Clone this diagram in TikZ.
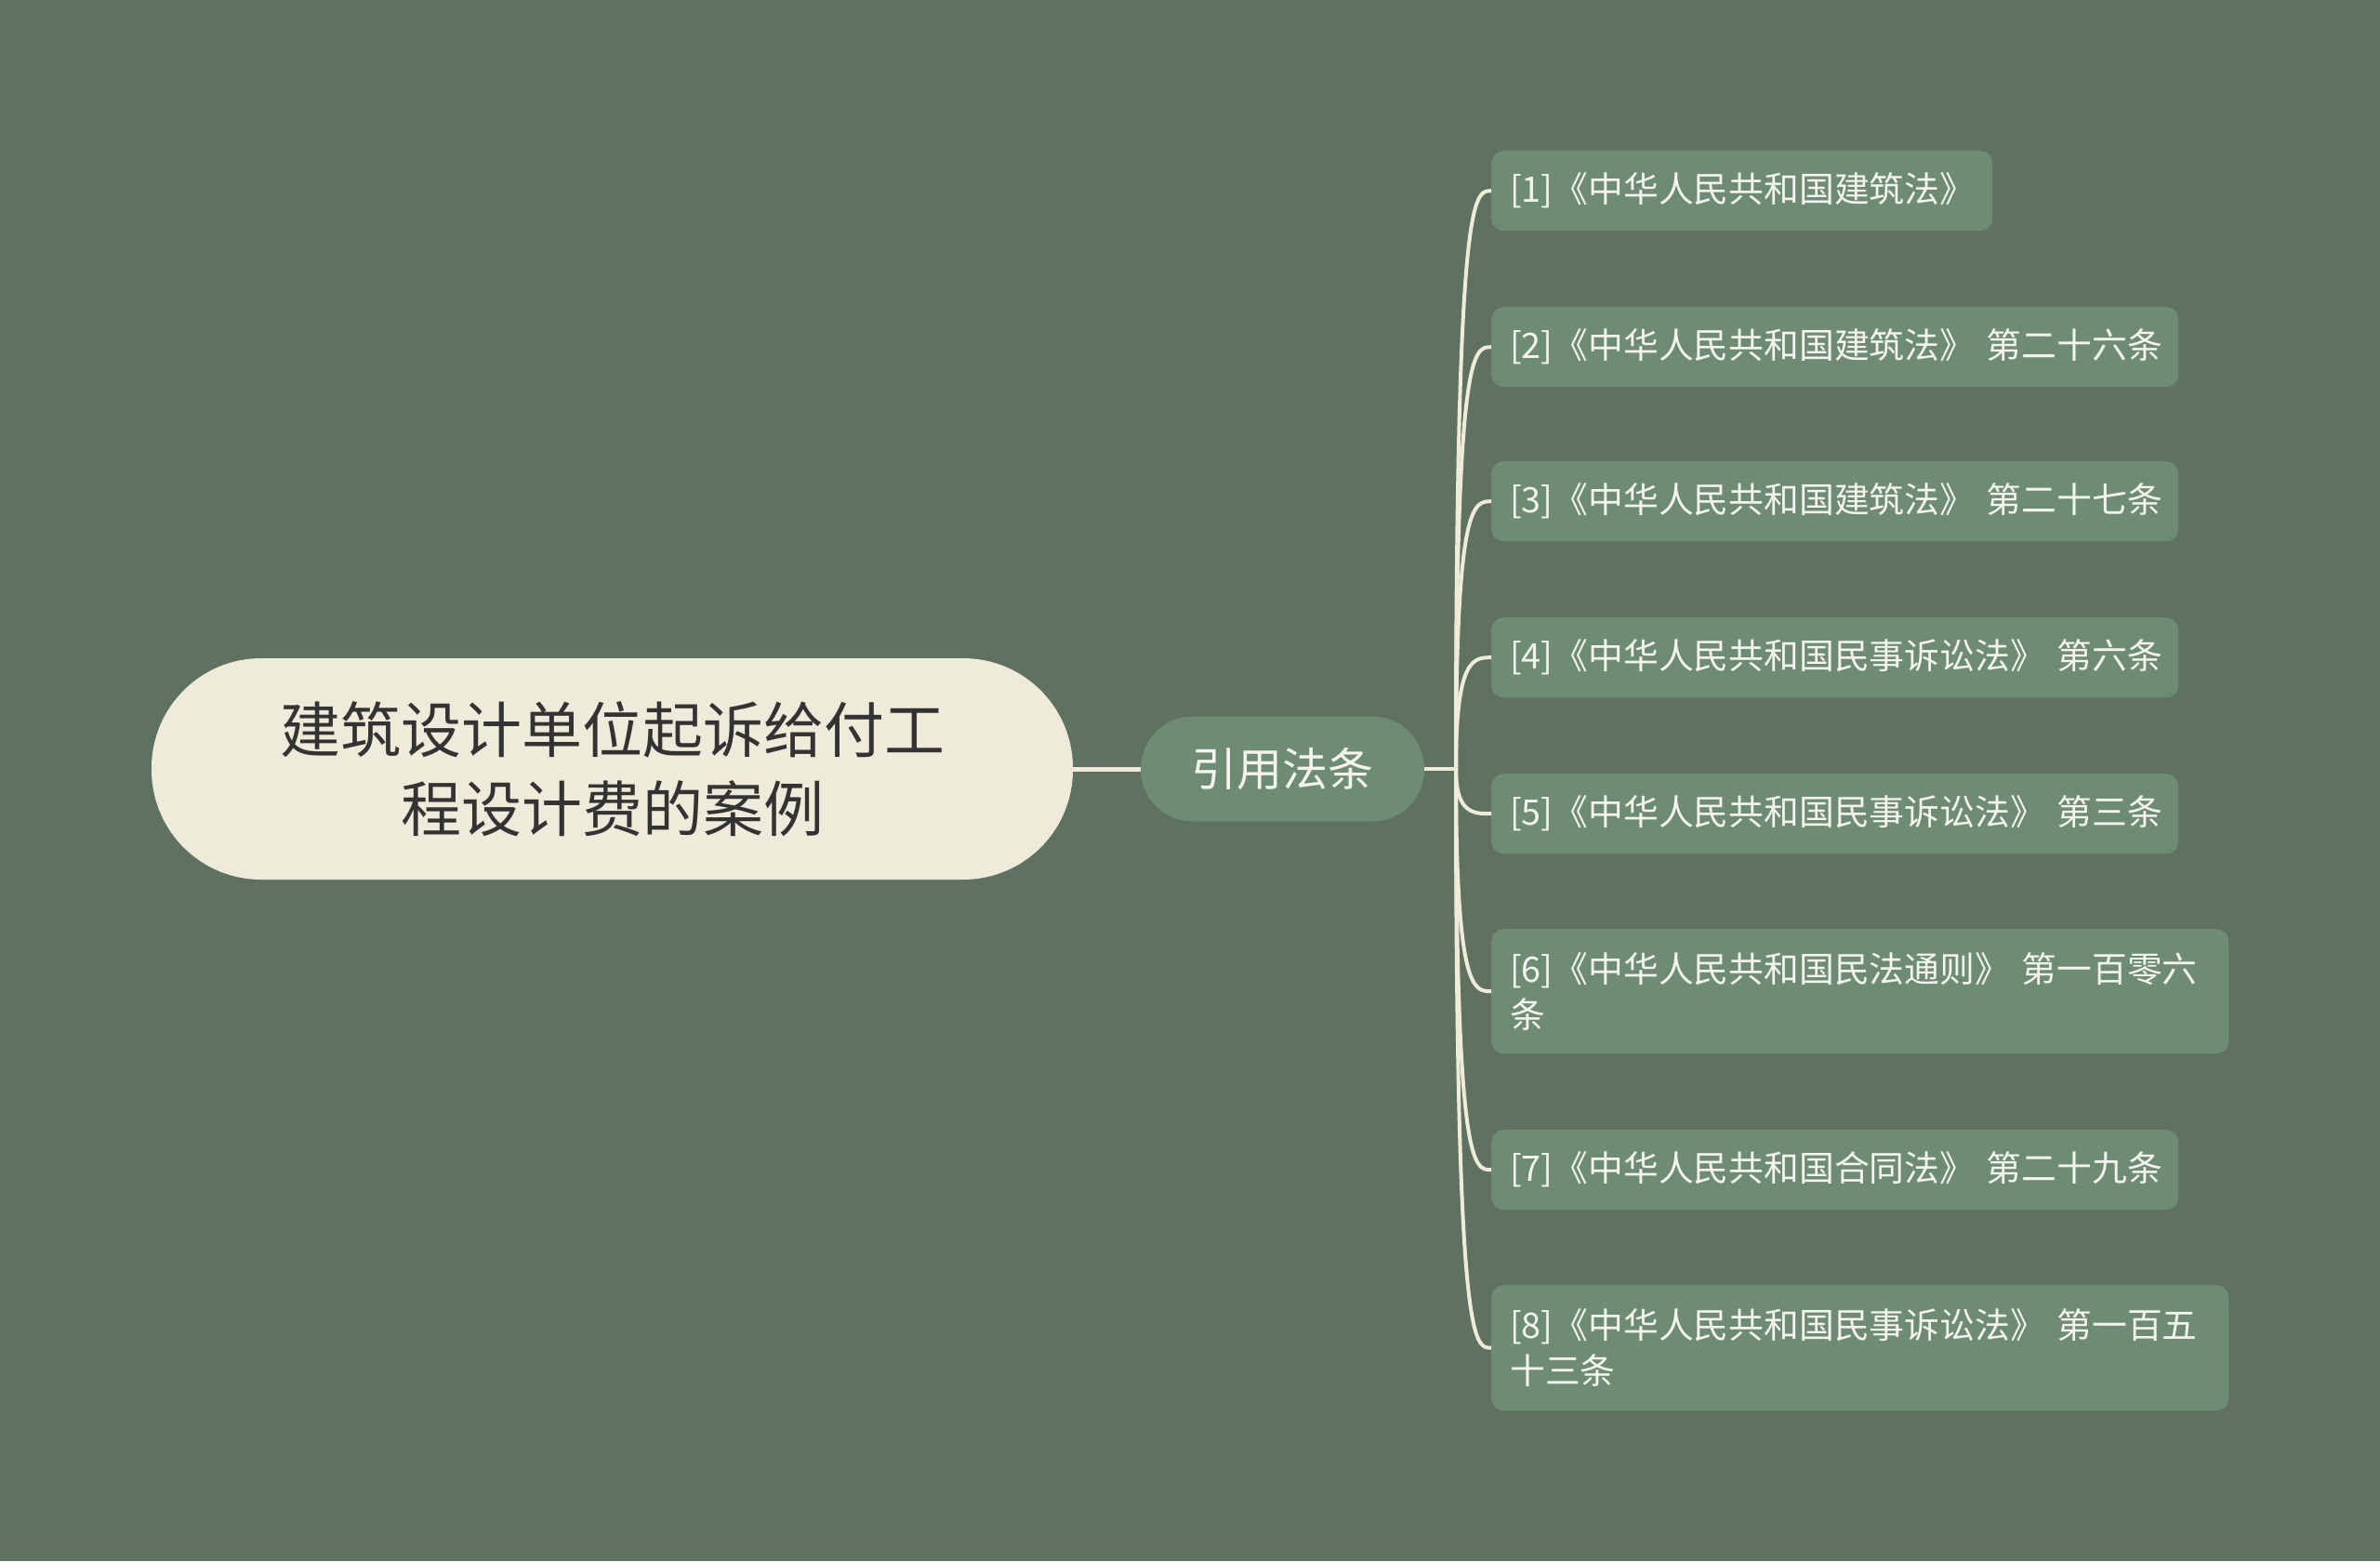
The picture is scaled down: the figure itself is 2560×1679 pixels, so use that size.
\documentclass[tikz,border=0pt]{standalone}
\usepackage{fontspec}
\setmainfont{Noto Sans CJK SC}
\usetikzlibrary{calc}
\definecolor{bgc}{HTML}{5F7262}
\definecolor{leafc}{HTML}{6E8B74}
\definecolor{rootc}{HTML}{EFEBDA}
\definecolor{linec}{HTML}{EFEBD9}
\definecolor{roottext}{HTML}{333333}
\definecolor{leaftext}{HTML}{F4F4EF}
\begin{document}
\begin{tikzpicture}[x=1pt,y=-1pt,
  rootbox/.style={fill=rootc, rounded corners=118pt, minimum width=991pt, minimum height=238pt,
    align=center, text=roottext, font=\fontsize{65}{85}\selectfont, inner sep=0pt},
  midbox/.style={fill=leafc, rounded corners=56pt, minimum width=305pt, minimum height=113pt,
    text=leaftext, font=\fontsize{49}{60}\selectfont, inner sep=0pt},
  leafbox/.style={fill=leafc, rounded corners=13pt, anchor=north west, align=left,
    text=leaftext, font=\fontsize{37.8}{49}\selectfont, inner xsep=20pt, inner ysep=0pt},
  conn/.style={draw=linec, line width=4pt},
]
\fill[bgc] (0,0) rectangle (2560,1679);
\useasboundingbox (0,0) rectangle (2560,1679);

\node[rootbox] (root) at (658.5,827) {建筑设计单位起诉给付工\\程设计费的案例};
\node[midbox] (mid) at (1379.5,827) {引用法条};

\node[leafbox, minimum width=539pt, minimum height=86pt, text width=499pt] (l1) at (1604,162) {[1]《中华人民共和国建筑法》};
\node[leafbox, minimum width=739pt, minimum height=86pt, text width=699pt] (l2) at (1604,330) {[2]《中华人民共和国建筑法》~第二十六条};
\node[leafbox, minimum width=739pt, minimum height=86pt, text width=699pt] (l3) at (1604,496) {[3]《中华人民共和国建筑法》~第二十七条};
\node[leafbox, minimum width=739pt, minimum height=86pt, text width=699pt] (l4) at (1604,664) {[4]《中华人民共和国民事诉讼法》~第六条};
\node[leafbox, minimum width=739pt, minimum height=86pt, text width=699pt] (l5) at (1604,832) {[5]《中华人民共和国民事诉讼法》~第三条};
\node[leafbox, minimum width=793pt, minimum height=134pt, text width=753pt] (l6) at (1604,999) {[6]《中华人民共和国民法通则》~第一百零六\\条};
\node[leafbox, minimum width=739pt, minimum height=86pt, text width=699pt] (l7) at (1604,1215) {[7]《中华人民共和国合同法》~第二十九条};
\node[leafbox, minimum width=793pt, minimum height=135pt, text width=753pt] (l8) at (1604,1382) {[8]《中华人民共和国民事诉讼法》~第一百五\\十三条};

\coordinate (j) at (1566,827);
\draw[conn, line width=5pt] (root.east) -- (mid.west);
\draw[conn] (mid.east) -- (j);
\foreach \n in {l1,l2,l3,l4,l5,l6,l7,l8}{
  \draw[conn] (j) .. controls (j |- \n.west) and +(-19,0) .. (\n.west);
}
\end{tikzpicture}
\end{document}
